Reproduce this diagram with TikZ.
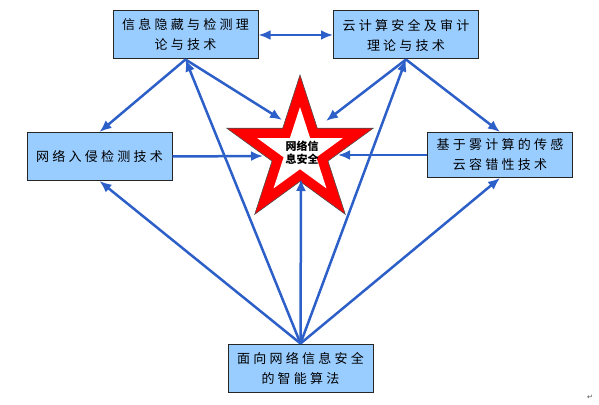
\documentclass[tikz,border=0pt]{standalone}
\usepackage{fontspec}
\usetikzlibrary{arrows.meta}
\newfontfamily\cjk[LetterSpace=25]{Noto Sans CJK SC}
\newfontfamily\cjkstar{Noto Sans CJK SC}
\newfontfamily\symb{DejaVu Sans}
\definecolor{boxblue}{RGB}{153,204,255}
\definecolor{arrowblue}{RGB}{45,95,200}

\begin{document}
\begin{tikzpicture}[x = 1pt, y = -1pt,
	topic/.style = {draw = black!85, line width = 1pt, fill = boxblue, minimum width = 145pt, minimum height = 48pt, align = center, inner sep = 0pt, font = \cjk\fontsize{13}{20}\selectfont},
	link/.style = {->, > = {Latex[length = 12pt, width = 10pt]}, color = arrowblue, line width = 2.5pt}]
	\useasboundingbox (0,0) rectangle (599,404);
	% star in the middle
	\begin{scope}[shift = {(300,152)}]
	\filldraw [fill = red, draw = black!70, line width = 0.6pt] plot[samples at = {0,...,9}] ({270+36*\x}:{ifthenelse(mod(\x,2)==0,77,29.4)}) -- cycle;
	\fill [white] plot[samples at = {0,...,9}] ({270+36*\x}:{ifthenelse(mod(\x,2)==0,45,17.2)}) -- cycle;
	\node [font = \cjkstar\bfseries\fontsize{11}{13}\selectfont, align = center, inner sep = 0pt] (core) at (2,1) {网络信\\息安全};
	\coordinate (core-tl) at (-18,-32);
	\coordinate (core-tr) at (26,-31);
	\coordinate (core-l) at (-37,4);
	\coordinate (core-r) at (38,3);
	\coordinate (core-b) at (1,27);
	\end{scope}
	% boxes
	\node [topic] (tl) at (185.5,35) {信息隐藏与检测理\\论与技术};
	\node [topic] (tr) at (406,35) {云计算安全及审计\\理论与技术};
	\node [topic] (left) at (99.5,156.5) {网络入侵检测技术};
	\node [topic, minimum height = 45pt] (right) at (500,155) {基于雾计算的传感\\云容错性技术};
	\node [topic] (bottom) at (300.5,368) {面向网络信息安全\\的智能算法};
	% arrows
	\draw [link, <->] (tl) -- (tr);
	\draw [link] (tl.south) -- (left.north);
	\draw [link] (tl.south) -- (core-tl);
	\draw [link] (tr.south) -- (core-tr);
	\draw [link] (tr.south) -- (right.north);
	\draw [link] (left.east) -- (core-l);
	\draw [link] (right.west) -- (core-r);
	\foreach \t in {left.south, tl.south, core-b, tr.south, right.south}
	\draw [link] (bottom.north) -- (\t);
	\node [font = \symb\fontsize{7}{7}\selectfont, text = black!70] (mark) at (590,397) {↵};
\end{tikzpicture}
\end{document}
